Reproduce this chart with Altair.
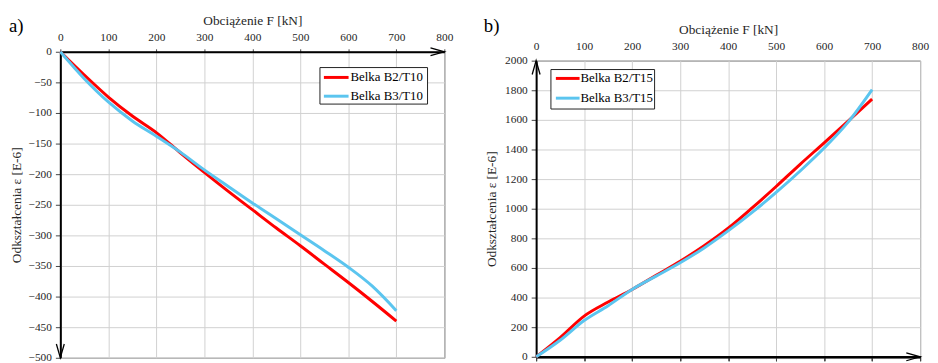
import altair as alt
import pandas as pd

# ---------------- data ----------------
F = [0, 50, 100, 150, 200, 250, 300, 350, 400, 450, 500, 550, 600, 650, 700]

a_b2 = [0, -38, -74, -105, -132, -165, -197, -228, -258, -288, -317, -347, -377, -408, -440]
a_b3 = [0, -44, -82, -113, -138, -164, -193, -220, -247, -273, -299, -325, -352, -383, -423]

b_b2 = [0, 130, 275, 370, 455, 550, 645, 750, 868, 1005, 1150, 1300, 1445, 1592, 1740]
b_b3 = [0, 112, 245, 345, 455, 545, 635, 735, 850, 975, 1110, 1255, 1410, 1585, 1805]

series_a = ["Belka B2/T10", "Belka B3/T10"]
series_b = ["Belka B2/T15", "Belka B3/T15"]
colors = ["#ff0000", "#5bc5ef"]

x_ticks = [0, 100, 200, 300, 400, 500, 600, 700, 800]
ya_ticks = [0, -50, -100, -150, -200, -250, -300, -350, -400, -450, -500]
yb_ticks = [0, 200, 400, 600, 800, 1000, 1200, 1400, 1600, 1800, 2000]

FONT = "Liberation Serif"
TXT = "#262626"
W = 389


def long_df(v1, v2, names):
    rows = []
    for name, vals in zip(names, [v1, v2]):
        for f, e in zip(F, vals):
            rows.append({"F": f, "eps": e, "series": name})
    return pd.DataFrame(rows)


df_a = long_df(a_b2, a_b3, series_a)
df_b = long_df(b_b2, b_b3, series_b)

xscale = alt.Scale(domain=[0, 800], nice=False, zero=False)
ya_scale = alt.Scale(domain=[-500, 0], nice=False, zero=False)
yb_scale = alt.Scale(domain=[0, 2000], nice=False, zero=False)

x_title = "Obciążenie  F [kN]"
y_title = "Odkształcenia  ε [E-6]"

common = dict(labelFont=FONT, labelFontSize=11.5, labelColor=TXT, format="d", labelFlush=False,
              titleFont=FONT, titleFontSize=13.5, titleFontWeight="normal", titleColor=TXT,
              gridColor="#d0d0d0", gridWidth=1)

xa_axis = alt.Axis(orient="top", values=x_ticks, title=x_title,
                   domainColor="black", domainWidth=2, tickSize=3, tickColor="#444",
                   labelPadding=6, titlePadding=5, **common)
ya_axis = alt.Axis(orient="left", values=ya_ticks, title=y_title,
                   domainColor="black", domainWidth=2, tickSize=5, tickColor="#444",
                   labelPadding=4, titlePadding=5, **common)
xb_axis = alt.Axis(orient="top", values=x_ticks, title=x_title,
                   domain=False, ticks=False, labelPadding=9, titlePadding=5, **common)
yb_axis = alt.Axis(orient="left", values=yb_ticks, title=y_title,
                   domainColor="black", domainWidth=2, tickSize=5, tickColor="#444",
                   labelPadding=4, titlePadding=6, **common)
xb_bottom = alt.Axis(orient="bottom", values=x_ticks, labels=False, title=None, grid=False,
                     domainColor="black", domainWidth=2, tickSize=4, tickColor="#444")

one = pd.DataFrame({"v": [0]})


def legend_layers(names, x0, y0, w, h, rows_y, line_x0, line_x1, text_x):
    layers = [alt.Chart(one).mark_rect(fill="white", stroke="#222", strokeWidth=1).encode(
        x=alt.value(x0), x2=alt.value(x0 + w), y=alt.value(y0), y2=alt.value(y0 + h))]
    for name, col, ry in zip(names, colors, rows_y):
        layers.append(alt.Chart(one).mark_rule(strokeWidth=3, color=col).encode(
            x=alt.value(line_x0), x2=alt.value(line_x1), y=alt.value(ry)))
        layers.append(alt.Chart(pd.DataFrame({"t": [name]})).mark_text(
            font=FONT, fontSize=13, color="black", align="left", baseline="middle").encode(
            text="t:N", x=alt.value(text_x), y=alt.value(ry)))
    return layers


def arrow(xv, yv, path, ys, xax, yax):
    return alt.Chart(pd.DataFrame({"F": [xv], "eps": [yv]})).mark_point(
        shape=path, filled=False, stroke="black", strokeWidth=1.3, size=64, opacity=1
    ).encode(
        x=alt.X("F:Q", scale=xscale, axis=xax),
        y=alt.Y("eps:Q", scale=ys, axis=yax),
    )


def label(txt, xpx, ypx):
    return alt.Chart(pd.DataFrame({"t": [txt]})).mark_text(
        font=FONT, fontSize=19, color="black", align="left", baseline="alphabetic"
    ).encode(text="t:N", x=alt.value(xpx), y=alt.value(ypx))


def spacer(h):
    return alt.Chart(one).mark_point(opacity=0, size=0).encode(
        x=alt.value(0), y=alt.value(h)
    ).properties(width=W, height=h, view=alt.ViewBackground(stroke=None))


# ---------------- panel a ----------------
lines_a = alt.Chart(df_a).mark_line(strokeWidth=3, interpolate="monotone").encode(
    x=alt.X("F:Q", scale=xscale, axis=xa_axis),
    y=alt.Y("eps:Q", scale=ya_scale, axis=ya_axis),
    color=alt.Color("series:N", scale=alt.Scale(domain=series_a, range=colors), legend=None),
)

panel_a = alt.layer(
    lines_a,
    arrow(800, 0, "M-3.5,-1L0,0L-3.5,1", ya_scale, xa_axis, ya_axis),
    arrow(0, -500, "M-1,-3.5L0,0L1,-3.5", ya_scale, xa_axis, ya_axis),
    label("a)", -52, -20),
    *legend_layers(series_a, 263, 16, 109, 37, [26, 45], 267, 292, 294),
).properties(width=W, height=310, view=alt.ViewBackground(stroke="#404040", strokeWidth=1))

# ---------------- panel b ----------------
lines_b = alt.Chart(df_b).mark_line(strokeWidth=3, interpolate="monotone").encode(
    x=alt.X("F:Q", scale=xscale, axis=xb_axis),
    y=alt.Y("eps:Q", scale=yb_scale, axis=yb_axis),
    color=alt.Color("series:N", scale=alt.Scale(domain=series_b, range=colors), legend=None),
)

bottom_axis_b = alt.Chart(pd.DataFrame({"F": [0, 800], "eps": [0, 0]})).mark_line(opacity=0).encode(
    x=alt.X("F:Q", scale=xscale, axis=xb_bottom),
    y=alt.Y("eps:Q", scale=yb_scale, axis=yb_axis),
)

panel_b = alt.layer(
    lines_b,
    bottom_axis_b,
    arrow(800, 0, "M-3.5,-1L0,0L-3.5,1", yb_scale, xb_bottom, yb_axis),
    arrow(0, 2000, "M-1,3.5L0,0L1,3.5", yb_scale, xb_bottom, yb_axis),
    label("b)", -53, -29),
    *legend_layers(series_b, 15, 9, 105, 40, [18, 38], 20, 44, 45),
).resolve_axis(x="independent").properties(
    width=W, height=300, view=alt.ViewBackground(stroke="#404040", strokeWidth=1)
)

col_a = alt.vconcat(spacer(2), panel_a, spacing=0)
col_b = alt.vconcat(spacer(6), panel_b, spacing=0)

chart = alt.hconcat(col_a, col_b, spacing=29).resolve_scale(color="independent").properties(
    padding={"left": 0, "top": 0, "right": 0, "bottom": 0}
).configure_view(stroke=None)

chart.save("out.html", embed_options={"renderer": "svg", "actions": False})
